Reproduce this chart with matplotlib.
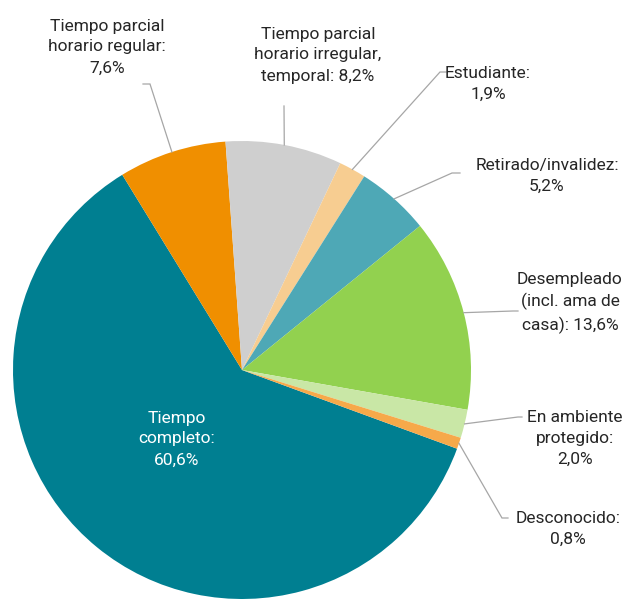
import numpy as np
import matplotlib
matplotlib.use("Agg")
import matplotlib.pyplot as plt
from matplotlib import font_manager

# ---- data ----
categories = ["Tiempo completo", "Tiempo parcial horario regular",
              "Tiempo parcial horario irregular, temporal", "Estudiante",
              "Retirado/invalidez", "Desempleado (incl. ama de casa)",
              "En ambiente protegido", "Desconocido"]
values = [60.6, 7.6, 8.2, 1.9, 5.2, 13.6, 2.0, 0.8]
label_texts = ["Tiempo\ncompleto:\n60,6%",
               "Tiempo parcial\nhorario regular:\n7,6%",
               "Tiempo parcial\nhorario irregular,\ntemporal: 8,2%",
               "Estudiante:\n1,9%",
               "Retirado/invalidez:\n5,2%",
               "Desempleado\n(incl. ama de\ncasa): 13,6%",
               "En ambiente\nprotegido:\n2,0%",
               "Desconocido:\n0,8%"]
colors = ["#007F91", "#F08F00", "#CFCFCF", "#F7CD91", "#4EA8B6",
          "#92D14F", "#C9E7A6", "#F6A94A"]

names = {f.name for f in font_manager.fontManager.ttflist}
fam = [f for f in ["Liberation Sans Narrow", "Roboto", "DejaVu Sans"] if f in names]

W, H = 632, 599
fig = plt.figure(figsize=(W / 100, H / 100), dpi=100)
ax = fig.add_axes([0, 0, 1, 1])
ax.axis("off")

def Y(y):
    return H - y

cx, cy, R = 242, Y(370), 229
wedges, _ = ax.pie(values, colors=colors, startangle=-20.1, counterclock=False,
                   center=(cx, cy), radius=R, normalize=True,
                   wedgeprops=dict(linewidth=0))
ax.set_xlim(0, W)
ax.set_ylim(0, H)
ax.set_aspect("equal")

# label layout: (text center x, text center y, elbow x, elbow y, end x) in pixels
layout = {
    1: (107, 47, 150, 84, 143),
    2: (318, 55, 284, 106, 284),
    3: (488, 84, 440, 72, 446),
    4: (547, 176, 452, 173, 460),
    5: (570, 303, 513, 311, 518),
    6: (575, 438, 518, 417, 522),
    7: (568, 529, 502, 518, 508),
}
fs = 12.5
line_col = "#A6A6A6"
for i, w in enumerate(wedges):
    mid = np.deg2rad((w.theta1 + w.theta2) / 2)
    if i == 0:
        ax.text(177, Y(439), label_texts[i], ha="center", va="center",
                color="white", fontsize=fs, family=fam, linespacing=1.5)
        continue
    tx, ty, ex, ey, endx = layout[i]
    px, py = cx + R * np.cos(mid), cy + R * np.sin(mid)
    ax.plot([px, ex, endx], [py, Y(ey), Y(ey)], color=line_col, lw=0.9,
            solid_joinstyle="miter")
    ax.text(tx, Y(ty), label_texts[i], ha="center", va="center",
            color="#262626", fontsize=fs, family=fam, linespacing=1.5)

fig.savefig("out.png", dpi=100)
